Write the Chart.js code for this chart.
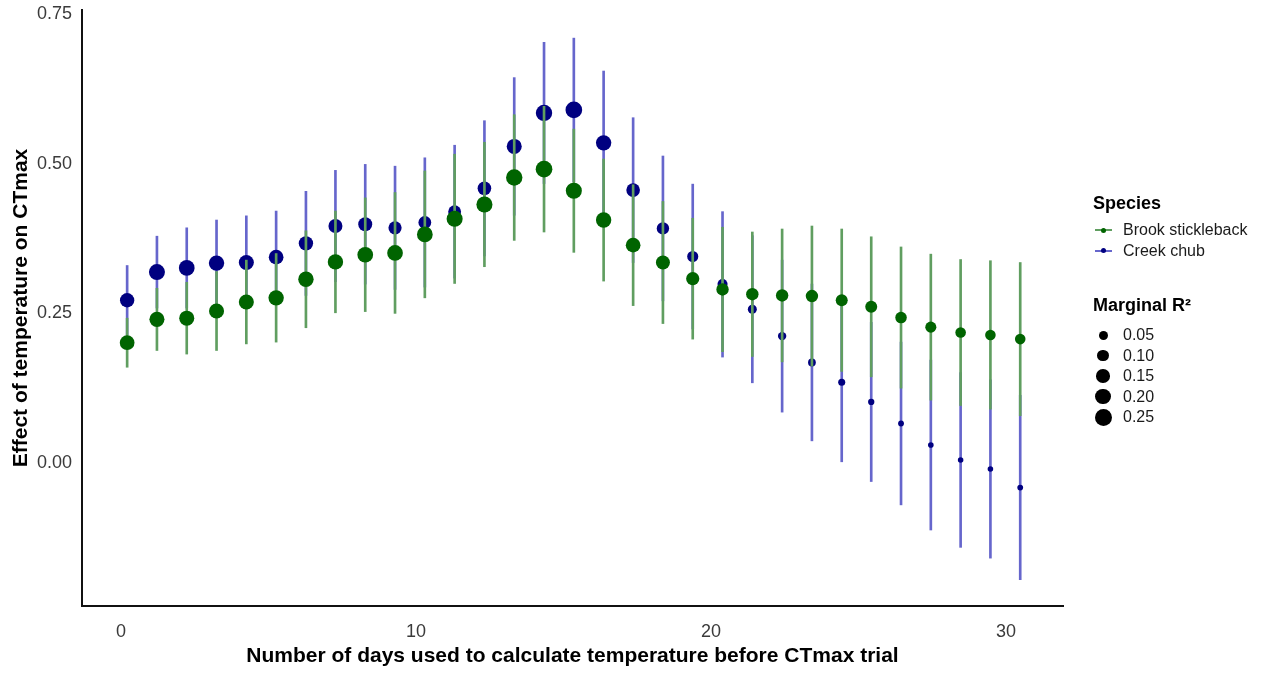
<!DOCTYPE html>
<html>
<head>
<meta charset="utf-8">
<script src="https://cdn.jsdelivr.net/npm/chart.js@4.4.1/dist/chart.umd.min.js"></script>
<style>
  body { margin: 0; background: #fff; font-family: 'Liberation Sans', Arial, sans-serif; }
  #wrap { position: relative; width: 1263px; height: 673px; }
  #chart { position: absolute; left: 0; top: 0; }
  .lg-title { position: absolute; left: 1093px; font-weight: bold; font-size: 18px; line-height: 22px; color: #000; white-space: nowrap; }
  .lg-row { position: absolute; left: 1090px; height: 20px; width: 170px; }
  .lg-row span { position: absolute; left: 33px; top: 0; font-size: 16px; line-height: 20px; color: #1a1a1a; white-space: nowrap; }
  .lg-line { position: absolute; left: 5px; top: 9px; width: 17px; height: 2px; }
  .lg-dot { position: absolute; border-radius: 50%; }
</style>
</head>
<body>
<div id="wrap">
  <canvas id="chart" width="1263" height="673"></canvas>
  <div class="lg-title" style="top:192px">Species</div>
  <div class="lg-title" style="top:294px">Marginal R²</div>
  <div id="legend"></div>
</div>
<script>
// x position of each estimate (days before trial)
const days = [0.21, 1.22, 2.23, 3.24, 4.25, 5.26, 6.27, 7.27, 8.28, 9.29,
  10.30, 11.31, 12.32, 13.33, 14.34, 15.35, 16.36, 17.36, 18.37, 19.38,
  20.39, 21.40, 22.41, 23.42, 24.43, 25.43, 26.44, 27.45, 28.46, 29.47, 30.48];

const species = ['Brook stickleback', 'Creek chub'];

// Brook stickleback: estimate, 95% interval, marginal R2
const brookEst = [0.201, 0.240, 0.242, 0.254, 0.269, 0.276, 0.307, 0.336, 0.348, 0.351,
  0.382, 0.408, 0.432, 0.477, 0.491, 0.455, 0.406, 0.364, 0.335, 0.308,
  0.290, 0.282, 0.280, 0.279, 0.272, 0.261, 0.243, 0.227, 0.218, 0.214, 0.207];
const brookLo = [0.160, 0.188, 0.182, 0.188, 0.199, 0.202, 0.226, 0.251, 0.253, 0.250,
  0.276, 0.300, 0.328, 0.372, 0.386, 0.352, 0.304, 0.263, 0.233, 0.207,
  0.186, 0.178, 0.169, 0.162, 0.153, 0.144, 0.125, 0.105, 0.096, 0.090, 0.079];
const brookHi = [0.242, 0.292, 0.302, 0.320, 0.339, 0.350, 0.388, 0.421, 0.443, 0.452,
  0.488, 0.516, 0.536, 0.582, 0.596, 0.558, 0.508, 0.465, 0.437, 0.409,
  0.394, 0.386, 0.391, 0.396, 0.391, 0.378, 0.361, 0.349, 0.340, 0.338, 0.335];
const brookR2 = [0.18, 0.19, 0.19, 0.19, 0.19, 0.20, 0.20, 0.20, 0.21, 0.21,
  0.21, 0.22, 0.22, 0.23, 0.24, 0.22, 0.20, 0.18, 0.16, 0.14,
  0.12, 0.12, 0.12, 0.12, 0.11, 0.11, 0.10, 0.09, 0.08, 0.08, 0.08];

// Creek chub
const chubEst = [0.272, 0.319, 0.326, 0.334, 0.335, 0.344, 0.367, 0.396, 0.399, 0.393,
  0.402, 0.420, 0.459, 0.529, 0.585, 0.590, 0.535, 0.456, 0.392, 0.345,
  0.299, 0.257, 0.212, 0.168, 0.135, 0.102, 0.066, 0.030, 0.005, -0.010, -0.041];
const chubLo = [0.214, 0.259, 0.259, 0.262, 0.257, 0.267, 0.280, 0.303, 0.299, 0.290,
  0.294, 0.309, 0.346, 0.414, 0.467, 0.470, 0.415, 0.335, 0.271, 0.224,
  0.177, 0.134, 0.085, 0.037, 0.002, -0.031, -0.070, -0.112, -0.141, -0.159, -0.195];
const chubHi = [0.330, 0.379, 0.393, 0.406, 0.413, 0.421, 0.454, 0.489, 0.499, 0.496,
  0.510, 0.531, 0.572, 0.644, 0.703, 0.710, 0.655, 0.577, 0.513, 0.466,
  0.420, 0.380, 0.339, 0.299, 0.268, 0.235, 0.202, 0.172, 0.151, 0.139, 0.113];
const chubR2 = [0.17, 0.22, 0.21, 0.20, 0.19, 0.18, 0.17, 0.16, 0.16, 0.14,
  0.13, 0.13, 0.15, 0.19, 0.23, 0.24, 0.20, 0.15, 0.12, 0.09,
  0.07, 0.05, 0.04, 0.03, 0.02, 0.01, 0.005, 0.003, 0.002, 0.002, 0.004];

const xTicks = [0, 10, 20, 30];
const yTicks = [0, 0.25, 0.5, 0.75];
const sizeBreaks = [0.05, 0.10, 0.15, 0.20, 0.25];

const GREEN = '#006400', GREEN_BAR = 'rgb(96,158,96)';
const NAVY = '#000080', NAVY_BAR = 'rgb(102,102,204)';
const FONT = "'Liberation Sans', Arial, sans-serif";

// dot area grows linearly with R2
function dotSize(r2) { return Math.sqrt(29 + 1040 * r2); }

function bars(lo, hi) { return days.map((d, i) => ({x: d, y: [lo[i], hi[i]]})); }
function dots(est, r2) { return days.map((d, i) => ({x: d, y: est[i], r: dotSize(r2[i]) / 2})); }

new Chart(document.getElementById('chart'), {
    type: 'bar',
    data: {
        datasets: [
            { type: 'bar', data: bars(chubLo, chubHi), backgroundColor: NAVY_BAR, barThickness: 2, grouped: false, borderWidth: 0, order: 4 },
            { type: 'bubble', data: dots(chubEst, chubR2), backgroundColor: NAVY, borderWidth: 0, order: 3 },
            { type: 'bar', data: bars(brookLo, brookHi), backgroundColor: GREEN_BAR, barThickness: 2, grouped: false, borderWidth: 0, order: 2 },
            { type: 'bubble', data: dots(brookEst, brookR2), backgroundColor: GREEN, borderWidth: 0, order: 1 },
        ]
    },
    options: {
        responsive: false,
        animation: false,
        events: [],
        layout: { padding: { top: 10, right: 200, bottom: 0, left: 0 } },
        plugins: { legend: { display: false }, tooltip: { enabled: false } },
        scales: {
            x: {
                type: 'linear',
                min: -1.32,
                max: 31.93,
                offset: false,
                grid: { display: false, drawTicks: false },
                border: { display: true, color: '#111', width: 2 },
                afterBuildTicks: s => { s.ticks = xTicks.map(v => ({value: v})) },
                afterFit: s => { s.height = 67; s.paddingLeft = 0; s.paddingRight = 0 },
                ticks: { padding: 15, color: '#3a3a3a', font: { family: FONT, size: 18 }, callback: v => String(v) },
                title: {
                    display: true,
                    text: 'Number of days used to calculate temperature before CTmax trial',
                    color: '#000',
                    font: { family: FONT, size: 21, weight: 'bold' },
                    padding: { top: 0, bottom: 4 }
                }
            },
            y: {
                type: 'linear',
                min: -0.239,
                max: 0.757,
                beginAtZero: false,
                grid: { display: false, drawTicks: false },
                border: { display: true, color: '#111', width: 2 },
                afterBuildTicks: s => { s.ticks = yTicks.map(v => ({value: v})) },
                afterFit: s => { s.width = 82; s.paddingTop = 0; s.paddingBottom = 0 },
                ticks: { padding: 10, color: '#3a3a3a', font: { family: FONT, size: 18 }, callback: v => v.toFixed(2) },
                title: {
                    display: true,
                    text: 'Effect of temperature on CTmax',
                    color: '#000',
                    font: { family: FONT, size: 21, weight: 'bold' },
                    padding: { top: 9, bottom: 0 }
                }
            }
        }
    }
});

// legend: species keys and dot sizes
const legend = document.getElementById('legend');
const speciesColors = [[GREEN_BAR, GREEN], [NAVY_BAR, NAVY]];
species.forEach((name, i) => {
    const row = document.createElement('div');
    row.className = 'lg-row';
    row.style.top = (220 + i * 20.5) + 'px';
    row.innerHTML = `<div class="lg-line" style="background:${speciesColors[i][0]}"></div>` +
        `<div class="lg-dot" style="left:11px;top:7.5px;width:5px;height:5px;background:${speciesColors[i][1]}"></div>` +
        `<span>${name}</span>`;
    legend.appendChild(row);
});
sizeBreaks.forEach((b, i) => {
    const d = dotSize(b);
    const row = document.createElement('div');
    row.className = 'lg-row';
    row.style.top = (325 + i * 20.6) + 'px';
    row.innerHTML = `<div class="lg-dot" style="left:${13 - d / 2}px;top:${10 - d / 2}px;width:${d}px;height:${d}px;background:#000"></div>` +
        `<span>${b.toFixed(2)}</span>`;
    legend.appendChild(row);
});
</script>
</body>
</html>
